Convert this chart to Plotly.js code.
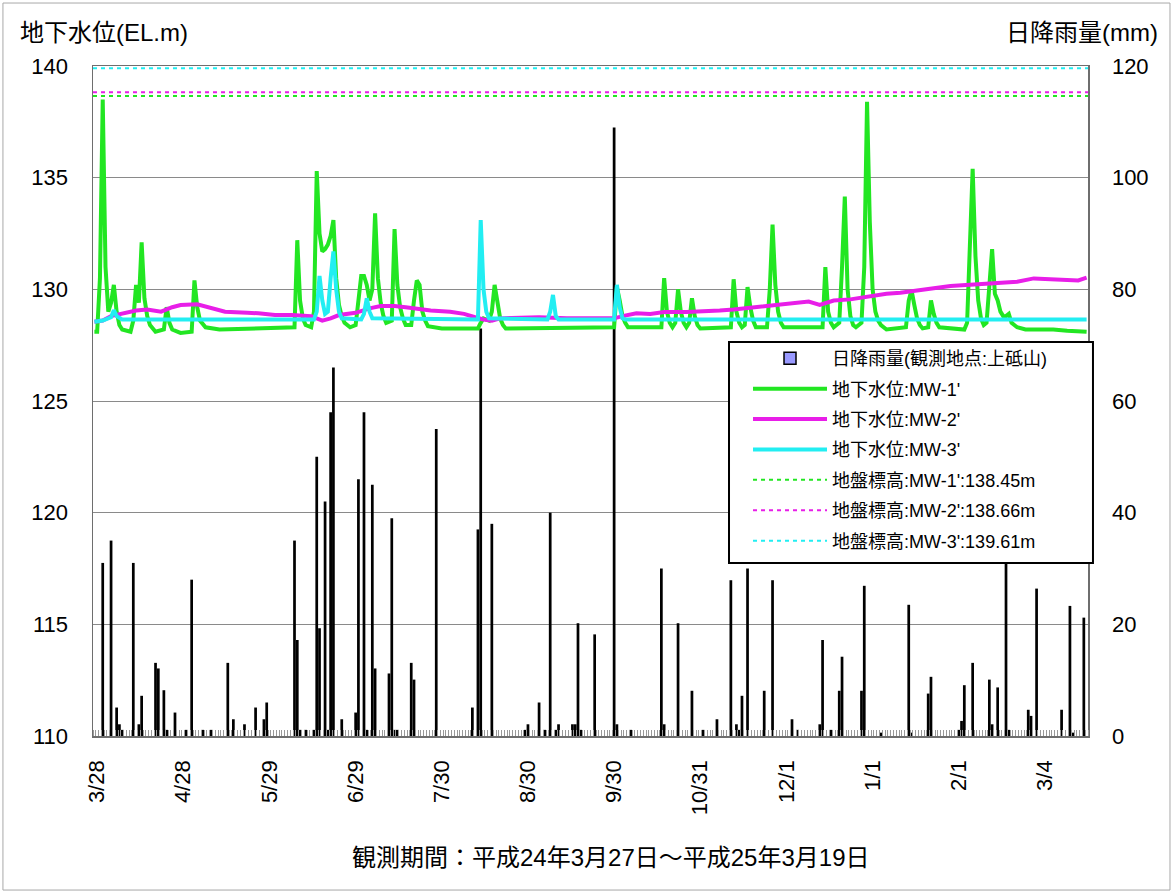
<!DOCTYPE html>
<html>
<head>
<meta charset="utf-8">
<script src="https://cdn.plot.ly/plotly-3.0.1.min.js"></script>
<style>html,body{margin:0;padding:0;background:#fff;}#chart{width:1176px;height:894px;}</style>
</head>
<body>
<div id="chart"></div>
<script>
// ---- axis ticks ----
const tickDates = ['2012-03-28','2012-04-28','2012-05-29','2012-06-29','2012-07-30','2012-08-30','2012-09-30','2012-10-31','2012-12-01','2013-01-01','2013-02-01','2013-03-04'];
const tickLabels = ['3/28','4/28','5/29','6/29','7/30','8/30','9/30','10/31','12/1','1/1','2/1','3/4'];
const periodStart = '2012-03-26 12:00';
const periodEnd = '2013-03-19 12:00';

// ---- daily rainfall (mm), rainy days only ----
const rainDates = ['2012-03-30','2012-04-02','2012-04-04','2012-04-05','2012-04-06','2012-04-10','2012-04-12','2012-04-13','2012-04-18','2012-04-19','2012-04-21','2012-04-22','2012-04-25','2012-04-29','2012-05-01','2012-05-05','2012-05-08','2012-05-14','2012-05-16','2012-05-20','2012-05-24','2012-05-27','2012-05-28','2012-06-07','2012-06-08','2012-06-09','2012-06-11','2012-06-14','2012-06-15','2012-06-16','2012-06-18','2012-06-19','2012-06-20','2012-06-21','2012-06-24','2012-06-29','2012-06-30','2012-07-02','2012-07-03','2012-07-05','2012-07-06','2012-07-11','2012-07-12','2012-07-13','2012-07-14','2012-07-19','2012-07-20','2012-07-28','2012-08-10','2012-08-12','2012-08-13','2012-08-17','2012-08-29','2012-08-30','2012-09-03','2012-09-05','2012-09-07','2012-09-09','2012-09-10','2012-09-15','2012-09-16','2012-09-17','2012-09-18','2012-09-23','2012-09-30','2012-10-01','2012-10-06','2012-10-17','2012-10-18','2012-10-23','2012-10-28','2012-11-01','2012-11-06','2012-11-11','2012-11-13','2012-11-14','2012-11-15','2012-11-17','2012-11-23','2012-11-26','2012-12-03','2012-12-05','2012-12-13','2012-12-14','2012-12-17','2012-12-20','2012-12-21','2012-12-28','2012-12-29','2013-01-04','2013-01-14','2013-01-15','2013-01-21','2013-01-22','2013-02-01','2013-02-02','2013-02-03','2013-02-06','2013-02-12','2013-02-13','2013-02-15','2013-02-18','2013-02-19','2013-02-26','2013-02-27','2013-03-01','2013-03-10','2013-03-13','2013-03-14','2013-03-18'];
const rainMM = [31,35,5.1,2.1,1.1,31,2.1,7.2,13.1,12.1,8.2,1.1,4.2,1.1,28,1.1,1.1,13.1,3.0,2.1,5.1,3.0,6.0,35,17.2,1.1,1.1,1.1,50,19.3,42,1.1,58,66,3.0,4.2,46,58,1.1,45,12.1,11.2,39,1.1,1.1,13.1,10.1,55,5.1,37,73,38,1.1,2.1,6.0,1.1,40,1.1,2.1,2.1,2.1,20.2,1.1,18.2,109,2.1,1.1,30,2.1,20.2,8.1,1.1,3.0,27.9,2.1,1.1,7.2,30,8.1,27.9,3.0,1.1,2.1,17.2,1.1,8.1,14.2,8.1,26.9,0.6,23.5,0.6,7.6,10.6,1.1,2.7,9.1,13.1,10.1,2.1,8.7,35,1.1,4.7,3.6,26.4,4.7,23.3,0.6,21.2];

// ---- groundwater level MW-1' (EL.m) ----
const mw1Dates = ['2012-03-27','2012-03-28','2012-03-29','2012-03-30','2012-03-31','2012-04-01','2012-04-02','2012-04-03','2012-04-04','2012-04-05','2012-04-06','2012-04-09','2012-04-10','2012-04-11','2012-04-12','2012-04-13','2012-04-14','2012-04-15','2012-04-16','2012-04-18','2012-04-21','2012-04-22','2012-04-23','2012-04-24','2012-04-27','2012-05-01','2012-05-02','2012-05-03','2012-05-04','2012-05-06','2012-05-11','2012-06-07','2012-06-08','2012-06-09','2012-06-10','2012-06-11','2012-06-13','2012-06-14','2012-06-15','2012-06-16','2012-06-17','2012-06-18','2012-06-19','2012-06-20','2012-06-21','2012-06-22','2012-06-23','2012-06-24','2012-06-25','2012-06-27','2012-06-29','2012-06-30','2012-07-01','2012-07-02','2012-07-03','2012-07-04','2012-07-05','2012-07-06','2012-07-07','2012-07-08','2012-07-09','2012-07-10','2012-07-12','2012-07-13','2012-07-14','2012-07-15','2012-07-16','2012-07-17','2012-07-19','2012-07-20','2012-07-21','2012-07-22','2012-07-23','2012-07-24','2012-07-25','2012-07-30','2012-08-12','2012-08-13','2012-08-14','2012-08-16','2012-08-17','2012-08-18','2012-08-19','2012-08-20','2012-08-21','2012-08-22','2012-09-30','2012-10-01','2012-10-02','2012-10-03','2012-10-04','2012-10-05','2012-10-17','2012-10-18','2012-10-19','2012-10-20','2012-10-21','2012-10-22','2012-10-23','2012-10-24','2012-10-25','2012-10-26','2012-10-27','2012-10-28','2012-10-29','2012-10-30','2012-10-31','2012-11-11','2012-11-12','2012-11-13','2012-11-14','2012-11-15','2012-11-16','2012-11-17','2012-11-18','2012-11-19','2012-11-20','2012-11-24','2012-11-25','2012-11-26','2012-11-27','2012-11-28','2012-11-29','2012-11-30','2012-12-14','2012-12-15','2012-12-16','2012-12-17','2012-12-18','2012-12-20','2012-12-21','2012-12-22','2012-12-23','2012-12-24','2012-12-25','2012-12-26','2012-12-28','2012-12-29','2012-12-30','2012-12-31','2013-01-01','2013-01-02','2013-01-03','2013-01-04','2013-01-06','2013-01-13','2013-01-14','2013-01-15','2013-01-16','2013-01-17','2013-01-18','2013-01-19','2013-01-21','2013-01-22','2013-01-23','2013-01-24','2013-01-25','2013-02-03','2013-02-04','2013-02-05','2013-02-06','2013-02-07','2013-02-08','2013-02-09','2013-02-10','2013-02-11','2013-02-12','2013-02-13','2013-02-14','2013-02-15','2013-02-16','2013-02-17','2013-02-18','2013-02-19','2013-02-20','2013-02-22','2013-02-25','2013-03-07','2013-03-12','2013-03-19'];
const mw1Level = [128.1,128.1,130.5,138.5,131.0,129.0,129.4,130.2,129.0,128.4,128.2,128.1,128.6,130.2,129.4,132.1,129.6,128.8,128.4,128.1,128.2,129.2,128.5,128.2,128.05,128.1,130.4,129.2,128.6,128.3,128.2,128.3,132.2,129.5,128.7,128.4,128.3,129.0,135.3,132.5,131.7,131.8,132.0,132.4,133.1,130.5,129.3,128.8,128.5,128.3,128.4,129.6,130.6,130.6,130.2,129.5,130.0,133.4,130.5,129.4,128.8,128.5,128.6,132.7,130.2,129.2,128.7,128.4,128.4,129.5,130.4,130.2,129.0,128.6,128.35,128.25,128.25,128.5,128.7,128.6,129.0,130.2,129.3,128.7,128.4,128.25,128.3,130.1,129.5,128.8,128.5,128.3,128.3,130.5,129.0,128.5,128.3,128.5,130.0,129.0,128.5,128.3,128.5,129.6,128.8,128.4,128.25,128.3,130.45,129.0,128.5,128.3,128.4,130.1,129.2,128.6,128.3,128.3,130.0,132.9,130.2,129.0,128.5,128.3,128.3,131.0,129.0,128.5,128.3,128.5,131.0,134.15,130.0,128.8,128.4,128.3,128.5,131.0,138.4,133.0,130.0,129.0,128.6,128.4,128.2,128.3,129.5,129.97,129.3,128.7,128.4,128.25,128.3,129.5,128.9,128.5,128.3,128.2,128.5,132.0,135.4,131.5,129.5,128.7,128.4,128.5,130.5,131.8,129.8,129.5,129.0,128.8,128.8,128.9,128.5,128.3,128.2,128.2,128.15,128.1];

// ---- groundwater level MW-2' (EL.m) ----
const mw2Dates = ['2012-03-27','2012-03-30','2012-04-02','2012-04-06','2012-04-11','2012-04-15','2012-04-20','2012-04-24','2012-04-27','2012-05-03','2012-05-08','2012-05-13','2012-05-21','2012-05-25','2012-05-31','2012-06-06','2012-06-13','2012-06-17','2012-06-20','2012-06-23','2012-06-29','2012-07-04','2012-07-08','2012-07-13','2012-07-17','2012-07-22','2012-07-26','2012-08-02','2012-08-07','2012-08-11','2012-08-14','2012-08-17','2012-08-20','2012-08-24','2012-09-03','2012-09-13','2012-09-23','2012-09-30','2012-10-03','2012-10-08','2012-10-13','2012-10-18','2012-10-26','2012-11-02','2012-11-07','2012-11-12','2012-11-19','2012-11-27','2012-12-04','2012-12-09','2012-12-13','2012-12-18','2012-12-24','2012-12-30','2013-01-06','2013-01-11','2013-01-17','2013-01-23','2013-01-29','2013-02-04','2013-02-10','2013-02-16','2013-02-22','2013-02-28','2013-03-07','2013-03-12','2013-03-16','2013-03-19'];
const mw2Level = [128.55,128.6,128.8,128.93,129.05,129.1,129.0,129.2,129.3,129.33,129.15,129.0,128.95,128.93,128.85,128.85,128.8,128.6,128.7,128.85,128.95,129.15,129.25,129.25,129.2,129.1,129.05,129.0,128.9,128.75,128.65,128.6,128.7,128.72,128.75,128.7,128.72,128.7,128.8,128.93,128.9,128.98,128.98,129.0,129.05,129.1,129.18,129.3,129.35,129.45,129.3,129.5,129.55,129.67,129.8,129.85,129.97,130.05,130.15,130.2,130.25,130.3,130.34,130.49,130.45,130.4,130.4,130.52];

// ---- groundwater level MW-3' (EL.m) ----
const mw3Dates = ['2012-03-27','2012-03-30','2012-04-02','2012-04-03','2012-04-04','2012-04-06','2012-06-14','2012-06-15','2012-06-16','2012-06-17','2012-06-18','2012-06-19','2012-06-20','2012-06-21','2012-06-22','2012-06-23','2012-06-24','2012-07-01','2012-07-02','2012-07-03','2012-07-04','2012-07-05','2012-08-12','2012-08-13','2012-08-14','2012-08-15','2012-08-16','2012-09-06','2012-09-07','2012-09-08','2012-09-09','2012-09-10','2012-09-30','2012-10-01','2012-10-02','2012-10-03','2012-10-04','2013-03-19'];
const mw3Level = [128.55,128.6,128.75,129.07,128.8,128.65,128.65,129.0,130.6,129.5,128.9,129.0,130.5,131.7,130.0,129.0,128.7,128.65,128.9,129.6,129.0,128.7,128.65,133.1,130.0,129.0,128.7,128.65,129.0,129.75,128.8,128.65,128.65,130.2,129.2,128.7,128.65,128.65];

// ---- ground elevation (as drawn) ----
const groundNames = ["地盤標高:MW-1':138.45m", "地盤標高:MW-2':138.66m", "地盤標高:MW-3':139.61m"];
const groundLevels = [138.66, 138.82, 139.9];

// ---- names ----
const rainName = '日降雨量(観測地点:上砥山)';
const levelNames = ["地下水位:MW-1'", "地下水位:MW-2'", "地下水位:MW-3'"];

const GREEN = '#22e622', MAGENTA = '#e81ee8', CYAN = '#22eef2';
const FONT = 'Liberation Sans, Arial, "Noto Sans CJK JP", sans-serif';

const traces = [
  // legend entry for rainfall (lavender box with dark border, as in the original legend)
  {type:'bar', x:[null], y:[null], name:rainName, yaxis:'y', legendgroup:'g0', showlegend:true,
   marker:{color:'#9999ff', line:{color:'#000', width:1.5}}},
  // rainfall bars (drawn black, as they appear in the original plot)
  {type:'bar', x:rainDates, y:rainMM, name:rainName, yaxis:'y', legendgroup:'g0', showlegend:false,
   marker:{color:'#000', line:{color:'#000', width:0}}},
  {type:'scatter', mode:'lines', x:mw1Dates, y:mw1Level, name:levelNames[0], yaxis:'y2', legendgroup:'g1',
   line:{color:GREEN, width:4}},
  {type:'scatter', mode:'lines', x:mw2Dates, y:mw2Level, name:levelNames[1], yaxis:'y2', legendgroup:'g2',
   line:{color:MAGENTA, width:4}},
  {type:'scatter', mode:'lines', x:mw3Dates, y:mw3Level, name:levelNames[2], yaxis:'y2', legendgroup:'g3',
   line:{color:CYAN, width:4}},
];
const dashColors = [GREEN, MAGENTA, CYAN];
groundLevels.forEach((v,i)=>{
  traces.push({type:'scatter', mode:'lines', x:[periodStart, periodEnd], y:[v, v], name:groundNames[i],
    yaxis:'y2', legendgroup:'g'+(4+i), line:{color:dashColors[i], width:2, dash:'4px,4px'}});
});

const layout = {
  width:1176, height:894,
  margin:{l:93, r:88, t:66, b:158},
  paper_bgcolor:'#fff', plot_bgcolor:'#fff',
  font:{family:FONT, size:22, color:'#000'},
  showlegend:true,
  barmode:'overlay',
  bargap:0.02,
  legend:{x:0.6583, y:0.591, xanchor:'left', yanchor:'top', bgcolor:'rgba(0,0,0,0)', borderwidth:0,
    font:{family:FONT, size:18, color:'#000'}, tracegroupgap:4, traceorder:'grouped', itemwidth:74},
  xaxis:{type:'date', range:[periodStart, periodEnd], tickmode:'array', tickvals:tickDates, ticktext:tickLabels,
    tickangle:-90, tickfont:{size:22}, ticks:'', showgrid:false, zeroline:false,
    showline:true, mirror:true, linecolor:'#6e6e6e', linewidth:1.5, ticklabelstandoff:14,
    minor:{tickmode:'linear', tick0:periodStart, dtick:86400000, ticks:'inside', ticklen:6, tickcolor:'#999', tickwidth:1, showgrid:false}},
  yaxis:{range:[0,120], dtick:20, side:'right', showgrid:true, gridcolor:'#8a8a8a', gridwidth:1, zeroline:false,
    showline:true, mirror:true, linecolor:'#6e6e6e', linewidth:1.5, ticks:'', ticklabelstandoff:18, tickfont:{size:22}},
  yaxis2:{range:[110,140], dtick:5, side:'left', overlaying:'y', showgrid:false, zeroline:false,
    showline:false, ticks:'', ticklabelstandoff:24, tickfont:{size:22}},
  shapes:[
    {type:'rect', xref:'paper', yref:'paper', x0:-0.0905, x1:1.0824, y0:-0.2299, y1:1.094, line:{color:'#a8a8a8', width:1}, layer:'below'},
    {type:'rect', xref:'paper', yref:'paper', x0:0.6392, x1:1.005, y0:0.2582, y1:0.5881, fillcolor:'#fff', line:{color:'#000', width:2}, layer:'above'}
  ],
  annotations:[
    {text:'地下水位(EL.m)', xref:'paper', yref:'paper', x:-0.0754, y:1.0493, xanchor:'left', yanchor:'middle', showarrow:false, font:{size:24}},
    {text:'日降雨量(mm)', xref:'paper', yref:'paper', x:1.0724, y:1.0493, xanchor:'right', yanchor:'middle', showarrow:false, font:{size:24}},
    {text:'観測期間：平成24年3月27日～平成25年3月19日', xref:'paper', yref:'paper', x:0.5206, y:-0.1806, xanchor:'center', yanchor:'middle', showarrow:false, font:{size:24}}
  ],
  hovermode:false
};

Plotly.newPlot('chart', traces, layout, {staticPlot:true, displayModeBar:false});
</script>
</body>
</html>
